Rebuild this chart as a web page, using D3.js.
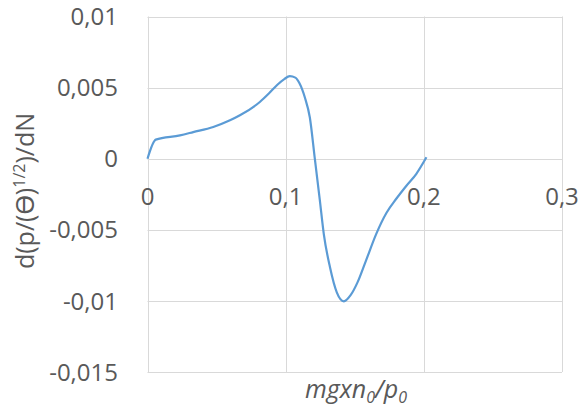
<!DOCTYPE html>
<html>
<head>
<meta charset="utf-8">
<script src="https://cdn.jsdelivr.net/npm/d3@7"></script>
<style>
  html, body { margin: 0; padding: 0; background: #fff; }
  svg { display: block; }
  text { font-family: "Open Sans", "Liberation Sans", sans-serif; fill: #595959; }
</style>
</head>
<body>
<svg id="chart" width="582" height="411"></svg>
<script>
// Derivative curve samples: abscissa mgxn0/p0 and ordinate d(p/Θ^1/2)/dN
const xValues = [0, 0.006, 0.0235, 0.0331, 0.0476, 0.0597, 0.0669, 0.0813, 0.088, 0.094, 0.099, 0.103, 0.107, 0.110, 0.1139, 0.1175, 0.1211, 0.1247, 0.1276, 0.132, 0.137, 0.1421, 0.147, 0.152, 0.158, 0.1655, 0.173, 0.1802, 0.1874, 0.1946, 0.2019];
const yValues = [0, 0.00134, 0.00164, 0.00187, 0.00223, 0.0027, 0.00305, 0.00399, 0.0046, 0.0052, 0.0056, 0.0058, 0.0057, 0.0053, 0.0043, 0.0029, 0, -0.0029, -0.0053, -0.0076, -0.0094, -0.01003, -0.0096, -0.0087, -0.0072, -0.0053, -0.0038, -0.0028, -0.0019, -0.00106, 0.0001];

const xTicks = [0, 0.1, 0.2, 0.3];
const yTicks = [0.01, 0.005, 0, -0.005, -0.01, -0.015];

const svg = d3.select("#chart");
const plotLeft = 147.5, plotRight = 562, plotTop = 16.5, plotBottom = 372;

const x = d3.scaleLinear().domain([0, 0.3]).range([plotLeft, plotRight]);
const y = d3.scaleLinear().domain([-0.015, 0.01]).range([plotBottom, plotTop]);

const fmt = v => (v === 0 ? "0" : String(+v.toFixed(3)).replace(".", ","));

// Gridlines
const grid = svg.append("g").attr("stroke", "#d9d9d9").attr("stroke-width", 1);
grid.selectAll("line.h").data(yTicks).join("line")
  .attr("x1", plotLeft).attr("x2", plotRight)
  .attr("y1", d => Math.round(y(d)) + 0.5).attr("y2", d => Math.round(y(d)) + 0.5);
grid.selectAll("line.v").data(xTicks).join("line")
  .attr("y1", plotTop).attr("y2", plotBottom)
  .attr("x1", d => Math.round(x(d)) + 0.5).attr("x2", d => Math.round(x(d)) + 0.5);

// Y tick labels
svg.append("g").selectAll("text").data(yTicks).join("text")
  .attr("x", 118).attr("y", d => y(d))
  .attr("dy", "0.36em")
  .attr("text-anchor", "end")
  .attr("font-size", 24)
  .text(fmt);

// X tick labels, placed beneath the zero line
svg.append("g").selectAll("text").data(xTicks).join("text")
  .attr("x", d => x(d)).attr("y", 205)
  .attr("text-anchor", "middle")
  .attr("font-size", 24)
  .text(fmt);

// Curve
const line = d3.line()
  .x((d, i) => x(xValues[i]))
  .y(d => y(d))
  .curve(d3.curveMonotoneX);
svg.append("path")
  .datum(yValues)
  .attr("fill", "none")
  .attr("stroke", "#5b9bd5")
  .attr("stroke-width", 2.2)
  .attr("stroke-linejoin", "round")
  .attr("d", line);

// X axis title
const xt = svg.append("text")
  .attr("x", 356).attr("y", 398)
  .attr("text-anchor", "middle")
  .attr("font-size", 25)
  .attr("font-style", "italic");
xt.append("tspan").text("mgxn");
xt.append("tspan").attr("font-size", 16).attr("dy", 5).text("0");
xt.append("tspan").attr("dy", -5).text("/p");
xt.append("tspan").attr("font-size", 16).attr("dy", 5).text("0");

// Y axis title
const yt = svg.append("text")
  .attr("transform", "translate(34,191) rotate(-90)")
  .attr("text-anchor", "middle")
  .attr("font-size", 25);
yt.append("tspan").text("d(p/(ϴ)");
yt.append("tspan").attr("font-size", 16).attr("dy", -9).text("1/2");
yt.append("tspan").attr("dy", 9).text(")/dN");
</script>
</body>
</html>
